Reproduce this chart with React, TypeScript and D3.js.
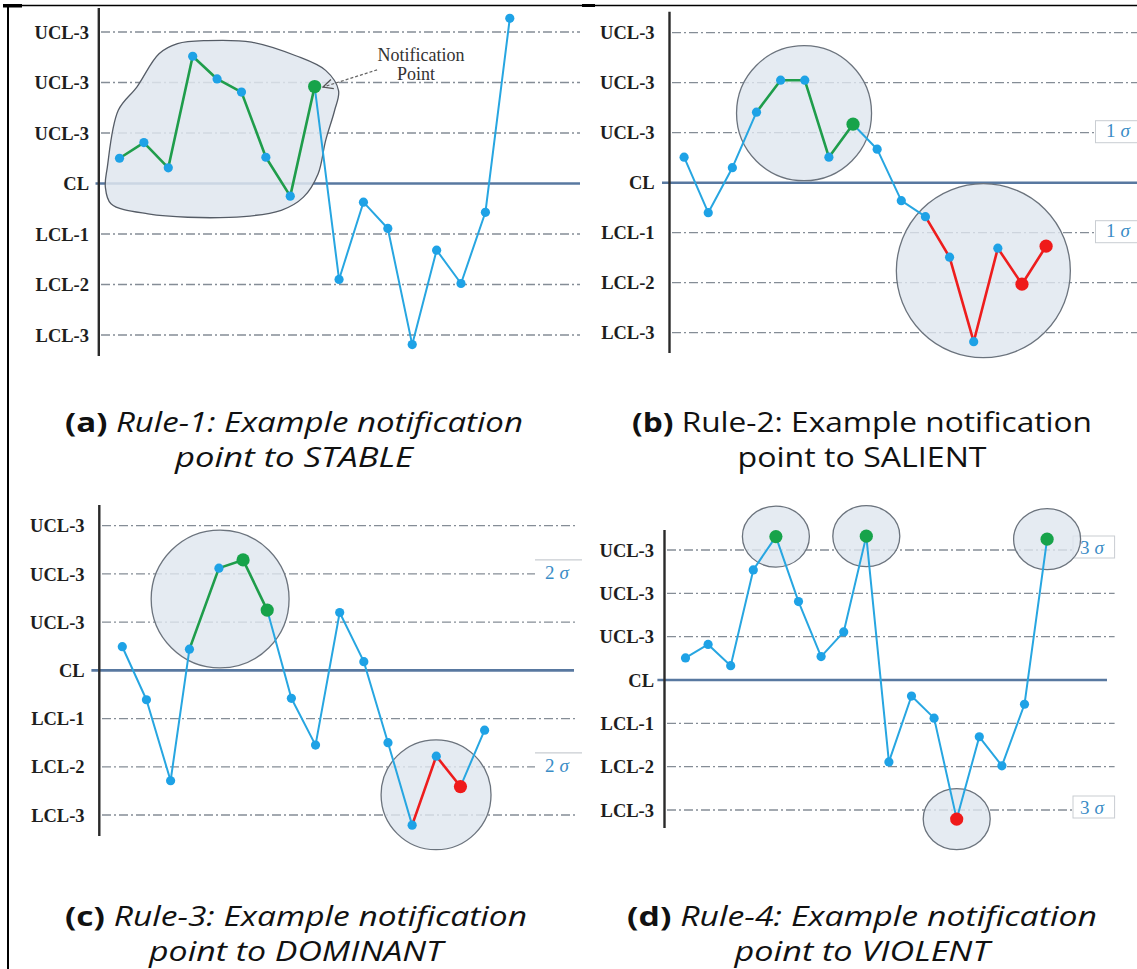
import React from "react";
import * as d3 from "d3";

// Control levels shared by all four charts (in sigma units) and their tick labels
const LEVELS = [3, 2, 1, 0, -1, -2, -3];
const LEVEL_LABELS = ["UCL-3", "UCL-3", "UCL-3", "CL", "LCL-1", "LCL-2", "LCL-3"];

// Segment colour codes: b = blue, g = green, r = red. Marker codes: b = small blue, G = green, R = red.

// (a) Rule-1
const A_VALUES = [0.5, 0.81, 0.31, 2.52, 2.07, 1.81, 0.52, -0.25, 1.92, -1.9, -0.37, -0.89, -3.19, -1.32, -1.98, -0.57, 3.27];
const A_SEGMENTS = "ggggggggbbbbbbbb";
const A_MARKERS = "bbbbbbbbGbbbbbbbb";
const A_REGION: [number, number][] = [
  [2.38, 2.77], [3.59, 2.83], [5.41, 2.8], [7.23, 2.53], [8.45, 2.24], [8.98, 1.84], [8.82, 1.45],
  [8.45, 0.85], [8.14, 0.19], [7.54, -0.27], [6.63, -0.53], [4.5, -0.67], [1.17, -0.6], [-0.35, -0.4],
  [-0.58, -0.07], [-0.5, 0.32], [-0.05, 1.45], [0.71, 1.91], [1.62, 2.57],
];
const A_NOTE_LINES = ["Notification", "Point"];
const A_NOTE_ANCHORS: [number, number][] = [[12.36, 2.42], [12.15, 2.04]];
const A_NOTE_ARROW: [number, number][] = [[10.56, 2.25], [8.34, 1.91]];

// (b) Rule-2
const B_VALUES = [0.51, -0.6, 0.3, 1.41, 2.05, 2.05, 0.51, 1.17, 0.67, -0.36, -0.68, -1.49, -3.18, -1.31, -2.03, -1.27];
const B_SEGMENTS = "bbbggggbbbrrrrr";
const B_MARKERS = "bbbbbbbGbbbbbbRR";
const B_RINGS = [{ x: 4.97, v: 1.39, r: 1.35 }, { x: 12.4, v: -1.76, r: 1.74 }];
const B_SIGMA = { label: "1", levels: [1, -1] };

// (c) Rule-3
const C_POSITIONS = [0, 1, 2, 2.78, 4, 5, 6, 7, 8, 9, 10, 11, 12, 13, 14, 15];
const C_VALUES = [0.49, -0.61, -2.29, 0.44, 2.12, 2.29, 1.25, -0.58, -1.55, 1.2, 0.18, -1.5, -3.21, -1.78, -2.41, -1.24];
const C_SEGMENTS = "bbbgggbbbbbbrrb";
const C_MARKERS = "bbbbbGGbbbbbbbRb";
const C_RINGS = [{ x: 4.05, v: 1.48, r: 1.43 }, { x: 12.99, v: -2.58, r: 1.14 }];
const C_SIGMA = { label: "2", levels: [2, -2] };

// (d) Rule-4
const D_VALUES = [0.51, 0.82, 0.33, 2.54, 3.31, 1.81, 0.54, 1.11, 3.32, -1.89, -0.37, -0.88, -3.21, -1.31, -1.98, -0.56, 3.25];
const D_SEGMENTS = "bbbbbbbbbbbbbbbb";
const D_MARKERS = "bbbbGbbbGbbbRbbbG";
const D_RING_POINTS = [4, 8, 12, 16];
const D_SIGMA = { label: "3", levels: [3, -3] };

// Captions
const CAPTION_TAGS = ["(a)", "(b)", "(c)", "(d)"];
const CAPTION_FIRST = [" Rule-1: Example notification", " Rule-2: Example notification", " Rule-3: Example notification", " Rule-4: Example notification"];
const CAPTION_SECOND = ["point to STABLE", "point to SALIENT", "point to DOMINANT", "point to VIOLENT"];
const CAPTION_ITALIC = [true, false, true, true];

const COLORS: Record<string, string> = { b: "#27a6e1", g: "#1f9d4b", r: "#ee1d1d" };
const MARKER_FILL: Record<string, string> = { b: "#1ea2e6", G: "#17a34a", R: "#ef1a1a" };

const SERIF = "'Liberation Serif', 'Times New Roman', serif";
const SANS = "'Open Sans', Lato, sans-serif";

type Layout = {
  x0: number; x1: number; n: number; yTop: number; yBot: number;
  axisX: number; axisY: [number, number]; gridX: [number, number]; clX: [number, number]; labelX: number;
};

type SigmaBox = { x0: number; x1: number; top: number; height: number; textX: number; textDy: number; topOnly: boolean };

function Chart(props: {
  layout: Layout; values: number[]; positions?: number[]; segments: string; markers: string;
  decorate?: (x: d3.ScaleLinear<number, number>, y: d3.ScaleLinear<number, number>) => React.ReactNode;
  sigma?: { label: string; levels: number[] }; sigmaBox?: SigmaBox;
}) {
  const { layout, values, segments, markers, decorate, sigma, sigmaBox } = props;
  const positions = props.positions ?? values.map((_, i) => i);
  const x = d3.scaleLinear().domain([0, layout.n - 1]).range([layout.x0, layout.x1]);
  const y = d3.scaleLinear().domain([3, -3]).range([layout.yTop, layout.yBot]);
  const pts = values.map((v, i) => [x(positions[i]), y(v)] as [number, number]);
  const line = d3.line();
  return (
    <g>
      {LEVELS.map((lv, i) =>
        lv === 0 ? null : (
          <line key={"g" + i} x1={layout.gridX[0]} x2={layout.gridX[1]} y1={y(lv)} y2={y(lv)}
            stroke="#858d96" strokeWidth={1.3} strokeDasharray="9,3,2,3" />
        )
      )}
      <line x1={layout.clX[0]} x2={layout.clX[1]} y1={y(0)} y2={y(0)} stroke="#5878a0" strokeWidth={2.6} />
      {sigma && sigmaBox && sigma.levels.map((lv, i) => {
        const gy = y(lv);
        return (
          <g key={"s" + i}>
            <rect x={sigmaBox.x0} y={gy + sigmaBox.top} width={sigmaBox.x1 - sigmaBox.x0} height={sigmaBox.height}
              fill="#ffffff" stroke={sigmaBox.topOnly ? "none" : "#c9cdd2"} strokeWidth={1} />
            {sigmaBox.topOnly && (
              <line x1={sigmaBox.x0} x2={sigmaBox.x1} y1={gy + sigmaBox.top} y2={gy + sigmaBox.top} stroke="#c9cdd2" strokeWidth={1.2} />
            )}
            <text x={sigmaBox.textX} y={gy + sigmaBox.textDy} fontFamily={SERIF} fontSize={19} fill="#3a8cc6">
              {sigma.label}
              <tspan fontStyle="italic" dx={5}>σ</tspan>
            </text>
          </g>
        );
      })}
      {decorate && decorate(x, y)}
      <line x1={layout.axisX} x2={layout.axisX} y1={layout.axisY[0]} y2={layout.axisY[1]} stroke="#2a2a2a" strokeWidth={2.4} />
      {LEVELS.map((lv, i) => (
        <text key={"l" + i} x={layout.labelX} y={y(lv)} dy="0.36em" textAnchor="end" fontFamily={SERIF}
          fontWeight={700} fontSize={18.5} fill="#1e1e1e">{LEVEL_LABELS[i]}</text>
      ))}
      {pts.slice(1).map((p, i) => (
        <path key={"p" + i} d={line([pts[i], p]) ?? ""} stroke={COLORS[segments[i]]}
          strokeWidth={segments[i] === "b" ? 2 : 2.6} fill="none" strokeLinecap="round" />
      ))}
      {pts.map((p, i) => (
        <circle key={"c" + i} cx={p[0]} cy={p[1]} r={markers[i] === "b" ? 4.6 : 6.6} fill={MARKER_FILL[markers[i]]} />
      ))}
    </g>
  );
}

const LAYOUT_A: Layout = { x0: 119.5, x1: 509.8, n: 17, yTop: 32, yBot: 335, axisX: 98.8, axisY: [8, 356], gridX: [101, 580], clX: [95.5, 580], labelX: 89 };
const LAYOUT_B: Layout = { x0: 684.1, x1: 1046.1, n: 16, yTop: 32.7, yBot: 332.7, axisX: 669.5, axisY: [11.7, 353], gridX: [672, 1137], clX: [662, 1137], labelX: 654.6 };
const LAYOUT_C: Layout = { x0: 122.3, x1: 484.6, n: 16, yTop: 525.7, yBot: 815, axisX: 99.3, axisY: [505, 836], gridX: [102, 576], clX: [91.4, 574], labelX: 84.6 };
const LAYOUT_D: Layout = { x0: 685.5, x1: 1047.1, n: 17, yTop: 550, yBot: 810, axisX: 664.5, axisY: [530, 828], gridX: [667, 1114.6], clX: [657.4, 1107], labelX: 654 };

const RING_FILL = "#dfe6ef";
const RING_STROKE = "#6b737d";

export default function App() {
  const captionX = [294, 862, 296, 862];
  const captionY = [432, 432, 926, 926];
  const firstWidth = [458, 460, 462, 470];
  const secondWidth = [238, 249, 294, 255];

  return (
    <svg width={1137} height={969} viewBox="0 0 1137 969"
      style={{ position: "absolute", left: 0, top: 0, background: "#ffffff" }}>
      <rect x={0} y={0} width={1137} height={969} fill="#ffffff" />
      {/* frame */}
      <line x1={4} x2={1137} y1={5.5} y2={5.5} stroke="#000" strokeWidth={1.5} />
      <line x1={8} x2={8} y1={5} y2={969} stroke="#000" strokeWidth={2} />
      <rect x={3} y={4} width={19} height={3.5} fill="#000" />
      <rect x={582} y={4} width={13} height={3} fill="#000" />

      {/* (a) */}
      <Chart layout={LAYOUT_A} values={A_VALUES} segments={A_SEGMENTS} markers={A_MARKERS}
        decorate={(x, y) => {
          const region = d3.line<[number, number]>().x((d) => x(d[0])).y((d) => y(d[1])).curve(d3.curveCatmullRomClosed.alpha(0.5));
          const [s, e] = A_NOTE_ARROW;
          const sx = x(s[0]), sy = y(s[1]), ex = x(e[0]), ey = y(e[1]);
          const ang = Math.atan2(sy - ey, sx - ex);
          const head = 11, spread = 0.45;
          return (
            <g>
              <path d={region(A_REGION) ?? ""} fill={RING_FILL} fillOpacity={0.85} stroke="#555c66" strokeWidth={1.3} />
              {A_NOTE_LINES.map((t, i) => (
                <text key={t} x={x(A_NOTE_ANCHORS[i][0])} y={y(A_NOTE_ANCHORS[i][1])} textAnchor="middle"
                  fontFamily={SERIF} fontSize={18} fill="#333">{t}</text>
              ))}
              <line x1={sx} y1={sy} x2={ex} y2={ey} stroke="#666" strokeWidth={1.2} strokeDasharray="3,2" />
              <path d={`M${ex + head * Math.cos(ang - spread)},${ey + head * Math.sin(ang - spread)} L${ex},${ey} L${ex + head * Math.cos(ang + spread)},${ey + head * Math.sin(ang + spread)}`}
                fill="none" stroke="#555" strokeWidth={1.3} />
            </g>
          );
        }} />

      {/* (b) */}
      <Chart layout={LAYOUT_B} values={B_VALUES} segments={B_SEGMENTS} markers={B_MARKERS}
        sigma={B_SIGMA}
        sigmaBox={{ x0: 1095.5, x1: 1142, top: -12, height: 22, textX: 1106, textDy: 4, topOnly: false }}
        decorate={(x, y) => (
          <g>
            {B_RINGS.map((c, i) => (
              <circle key={i} cx={x(c.x)} cy={y(c.v)} r={y(0) - y(c.r)} fill={RING_FILL} fillOpacity={0.8}
                stroke={RING_STROKE} strokeWidth={1.3} />
            ))}
          </g>
        )} />

      {/* (c) */}
      <Chart layout={LAYOUT_C} values={C_VALUES} positions={C_POSITIONS} segments={C_SEGMENTS} markers={C_MARKERS}
        sigma={C_SIGMA}
        sigmaBox={{ x0: 535, x1: 582, top: -14, height: 24, textX: 545, textDy: 5, topOnly: true }}
        decorate={(x, y) => (
          <g>
            {C_RINGS.map((c, i) => (
              <circle key={i} cx={x(c.x)} cy={y(c.v)} r={y(0) - y(c.r)} fill={RING_FILL} fillOpacity={0.8}
                stroke={RING_STROKE} strokeWidth={1.3} />
            ))}
          </g>
        )} />

      {/* (d) */}
      <Chart layout={LAYOUT_D} values={D_VALUES} segments={D_SEGMENTS} markers={D_MARKERS}
        sigma={D_SIGMA}
        sigmaBox={{ x0: 1073, x1: 1114.6, top: -14, height: 22, textX: 1080, textDy: 4, topOnly: false }}
        decorate={(x, y) => (
          <g>
            {D_RING_POINTS.map((idx) => (
              <ellipse key={idx} cx={x(idx)} cy={y(D_VALUES[idx])} rx={33.5} ry={30.5} fill={RING_FILL} fillOpacity={0.8}
                stroke={RING_STROKE} strokeWidth={1.3} />
            ))}
          </g>
        )} />

      {/* captions */}
      {CAPTION_TAGS.map((tag, i) => (
        <g key={tag} fontFamily={SANS} fontSize={27} fill="#111">
          <text x={captionX[i]} y={captionY[i]} textAnchor="middle" textLength={firstWidth[i]} lengthAdjust="spacingAndGlyphs">
            <tspan fontWeight={700}>{tag}</tspan>
            <tspan fontStyle={CAPTION_ITALIC[i] ? "italic" : "normal"}>{CAPTION_FIRST[i]}</tspan>
          </text>
          <text x={captionX[i]} y={captionY[i] + 35} textAnchor="middle" textLength={secondWidth[i]} lengthAdjust="spacingAndGlyphs"
            fontStyle={CAPTION_ITALIC[i] ? "italic" : "normal"}>{CAPTION_SECOND[i]}</text>
        </g>
      ))}
    </svg>
  );
}
